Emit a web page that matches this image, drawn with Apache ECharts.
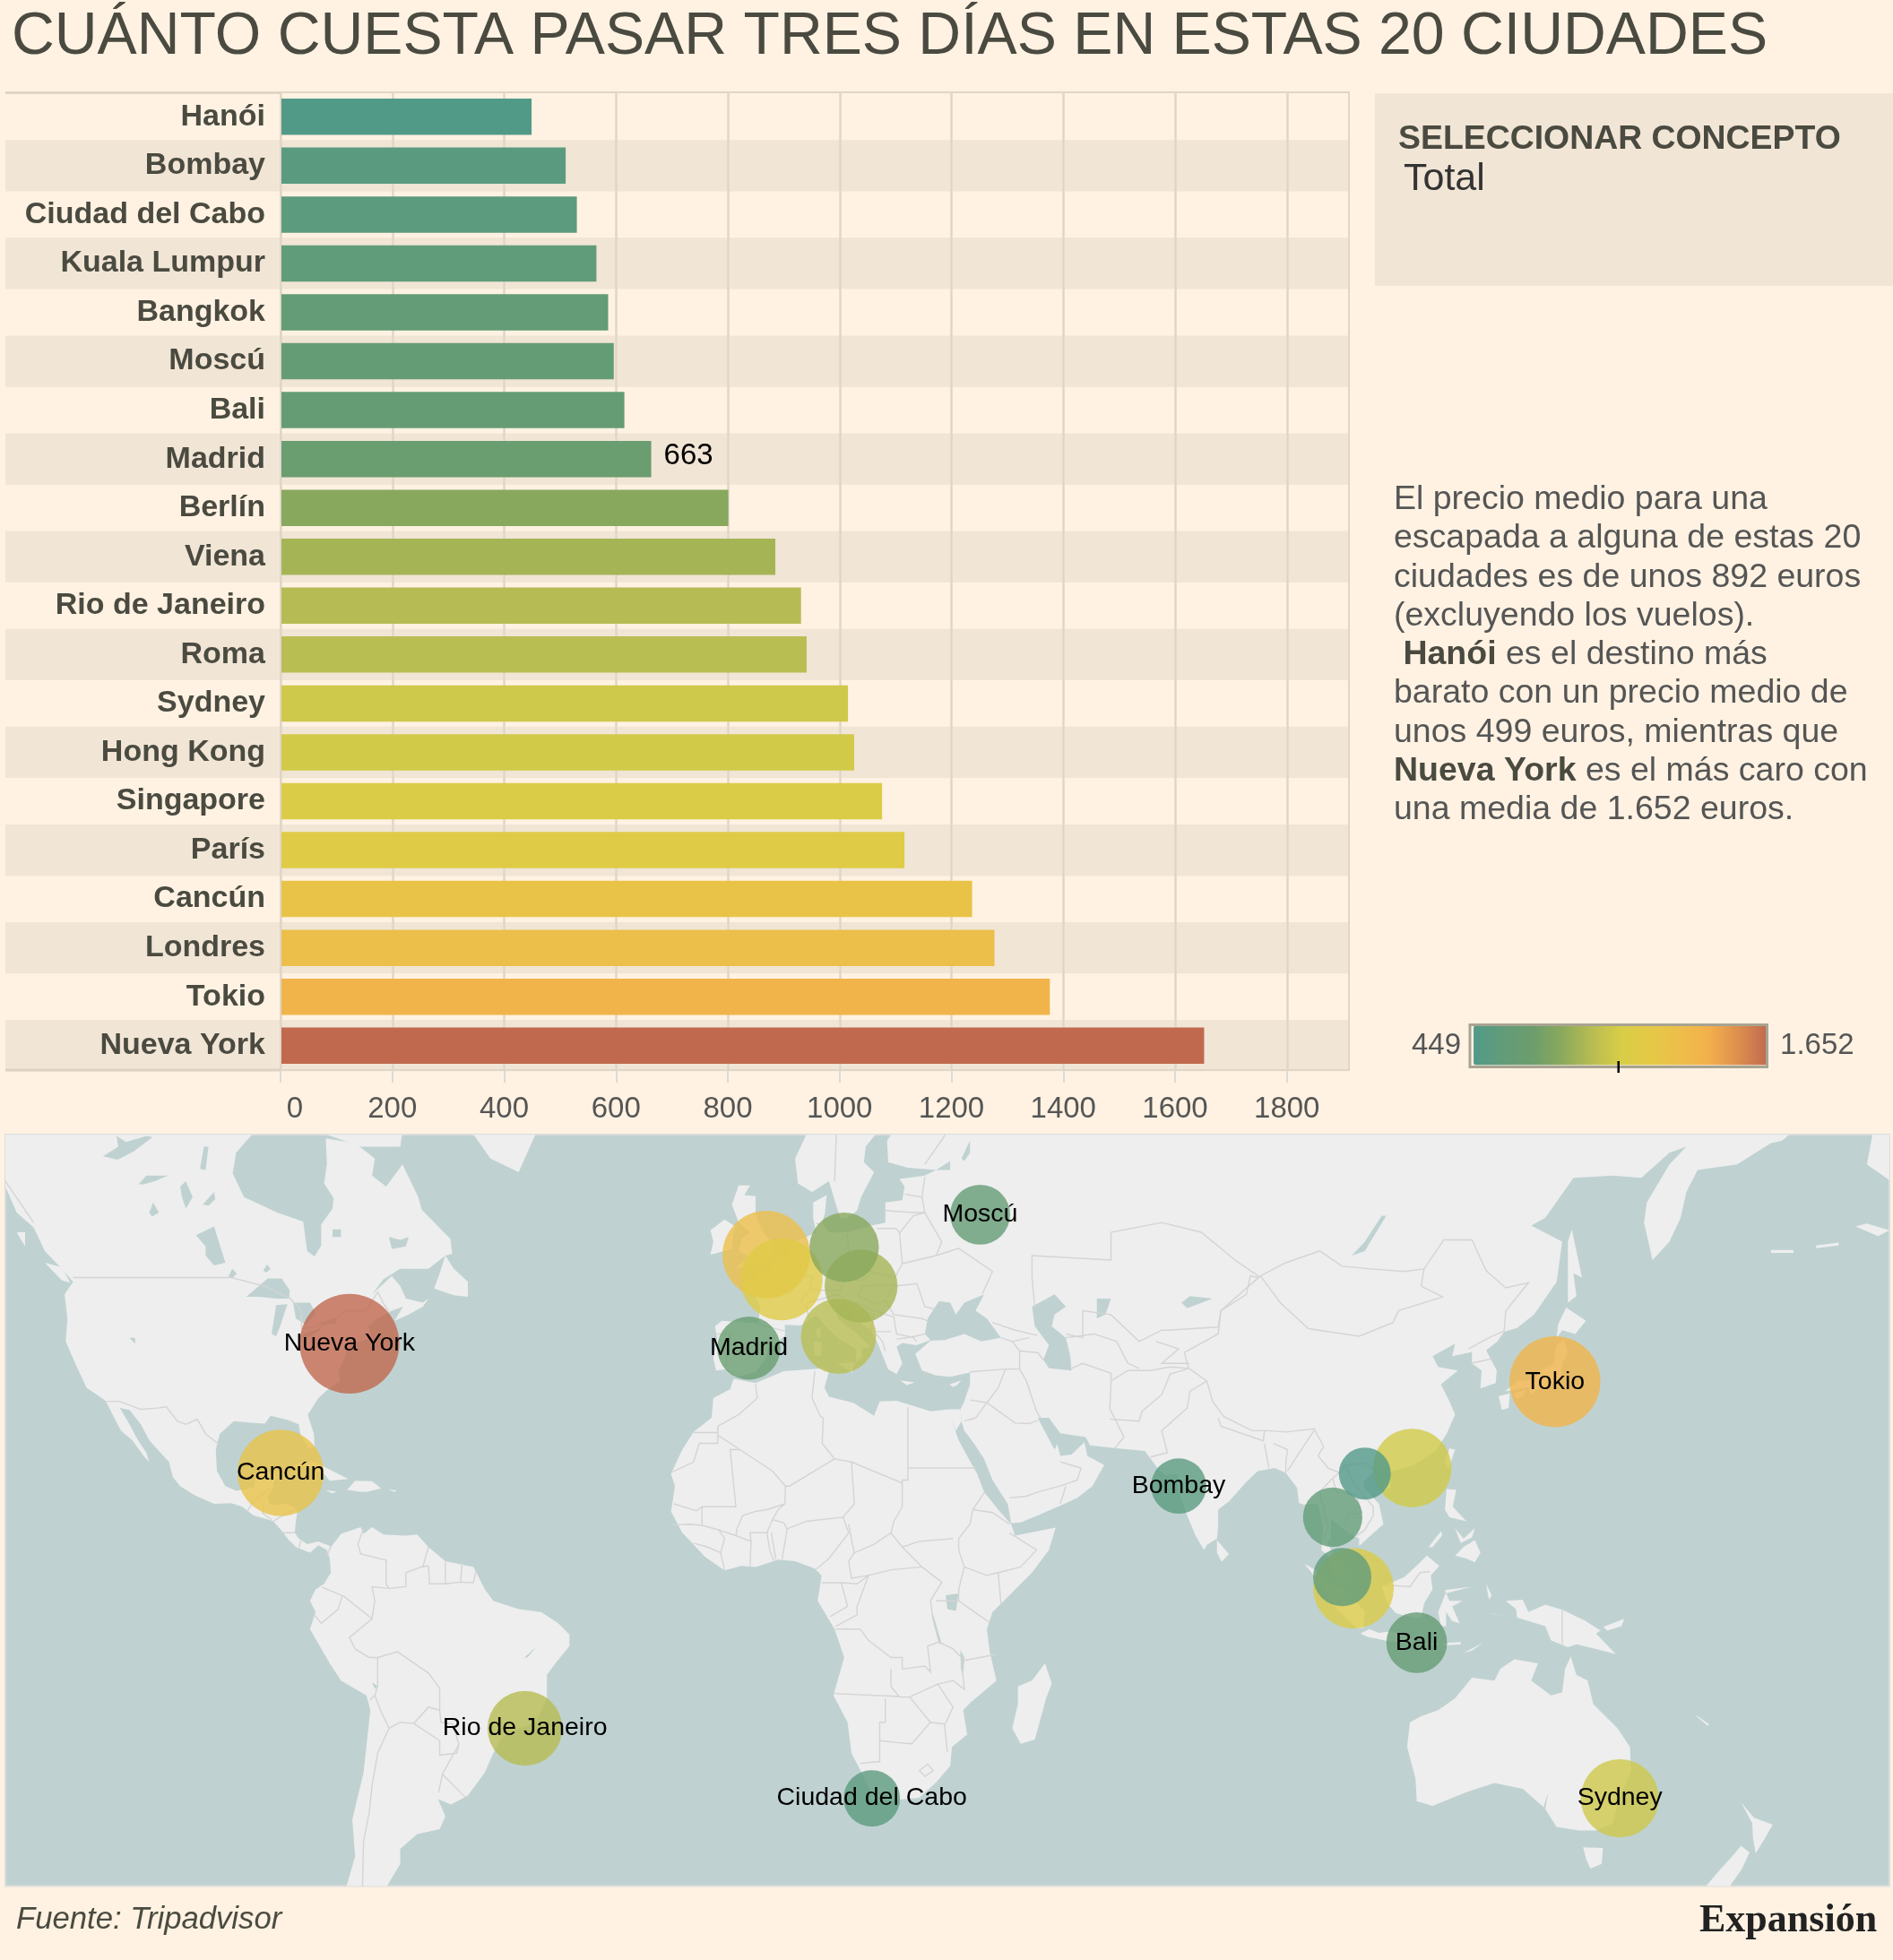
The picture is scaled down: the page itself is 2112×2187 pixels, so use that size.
<!DOCTYPE html>
<html>
<head>
<meta charset="utf-8">
<title>Cuánto cuesta pasar tres días en estas 20 ciudades</title>
<script src="https://cdn.jsdelivr.net/npm/echarts@6/dist/echarts.min.js"></script>
<style>
html, body { margin: 0; padding: 0; background: #fff2e2; }
#main { width: 2112px; height: 2187px; }
</style>
</head>
<body>
<div id="main"></div>
<script>
// datos
var cities = ['Hanói', 'Bombay', 'Ciudad del Cabo', 'Kuala Lumpur', 'Bangkok', 'Moscú', 'Bali', 'Madrid', 'Berlín', 'Viena',
    'Rio de Janeiro', 'Roma', 'Sydney', 'Hong Kong', 'Singapore', 'París', 'Cancún', 'Londres', 'Tokio', 'Nueva York'];
var totals = [449, 510, 530, 565, 586, 596, 615, 663, 801, 885, 931, 941, 1015, 1026, 1076, 1116, 1237, 1277, 1376, 1652];
var lons = [106.0, 73.0, 18.6, 102.0, 100.3, 37.8, 115.2, -3.2, 13.7, 16.7, -42.9, 12.7, 151.2, 114.4, 104.0, 2.6, -86.2, -0.1, 139.7, -74.0];
var lats = [21.1, 19.0, -33.9, 3.2, 13.7, 55.8, -8.4, 40.1, 52.4, 48.0, -23.0, 41.7, -33.9, 22.0, 1.2, 48.8, 21.2, 51.6, 35.4, 40.7];
var mapLabels = ['Bombay', 'Ciudad del Cabo', 'Moscú', 'Bali', 'Madrid', 'Rio de Janeiro', 'Sydney', 'Cancún', 'Tokio', 'Nueva York'];
var xTicks = [0, 200, 400, 600, 800, 1000, 1200, 1400, 1600, 1800];
var noteLines = [
    'El precio medio para una',
    'escapada a alguna de estas 20',
    'ciudades es de unos 892 euros',
    '(excluyendo los vuelos).',
    ' {b|Hanói} es el destino más',
    'barato con un precio medio de',
    'unos 499 euros, mientras que',
    '{b|Nueva York} es el más caro con',
    'una media de 1.652 euros.'
];
var ramp = ['#529a88', '#629c79', '#6c9d6d', '#8aa95c', '#b6bc53', '#d8cd47', '#e4c946', '#edbe4a', '#f3b04c', '#dc8f4e', '#c1694f'];

// geografia base, lon/lat a ojo
var landPolys = [
    // Norteamerica
    [[-168,65.5],[-164,63],[-165,60.5],[-158,58],[-153,59],[-150,61],[-146,60.5],[-140,59.8],[-135,58.5],[-133,56],[-130,54.5],[-128,52],[-125,50],[-123,48.5],[-124.5,47],[-124,44],[-124.3,41],[-122.5,37.8],[-120.6,34.5],[-117.2,32.6],[-116,30.5],[-114.5,28],[-112.5,26.5],[-110.5,24],[-109.5,23],[-110,24.5],[-111.5,26.5],[-113,29],[-114.7,31.5],[-113,31.2],[-111,29],[-109.5,26.5],[-108,25],[-106,23],[-105.3,20.5],[-104,19],[-101.5,17.5],[-98,16],[-95,16.1],[-93,15.5],[-91,14],[-88,13.2],[-87.5,13],[-85.7,11],[-85,10],[-83.5,8.5],[-81,7.5],[-79.5,8.8],[-78,8],[-77.3,8.5],[-77.5,8.7],[-79.5,9.5],[-81.5,9],[-83,10],[-83.7,11],[-83.5,13],[-83.2,15],[-85,16],[-88,15.8],[-88.5,17],[-87.7,18.5],[-87,21],[-89,21.4],[-90.5,20.8],[-91,18.8],[-94,18.2],[-96,19],[-97.5,21.5],[-97.7,25],[-97,27.5],[-94.5,29.5],[-91,29.2],[-89,29.1],[-88,30.3],[-85,29.7],[-83,29],[-82.7,27.5],[-81.2,25.2],[-80.2,25.5],[-80.3,27.5],[-81.4,30.5],[-79.5,33],[-77.5,34.5],[-75.7,35.5],[-76,37],[-75,38.5],[-74,40.5],[-72,41],[-70,41.6],[-70.7,43],[-69,44],[-66.5,45],[-64.5,45.5],[-66,43.7],[-63.5,44.5],[-61,45.5],[-60,46.5],[-61,46],[-64,46.5],[-65,48],[-66.5,49.2],[-70,47],[-68,48.8],[-65,50],[-60,50],[-57,51.5],[-55.8,51.7],[-56.1,53.3],[-61.2,56.3],[-61.8,57.5],[-64.6,60.5],[-67.5,58.5],[-70,59.5],[-69.5,61],[-73,62.3],[-78.2,62.7],[-78,60.5],[-78.5,58.8],[-76.8,57.4],[-77,56.4],[-79,54.8],[-79,52.6],[-80.2,51.4],[-81.5,52],[-82.2,55.1],[-86.8,56],[-92.7,57.5],[-94.7,59.7],[-94.1,61.5],[-91.3,63],[-88,64],[-85,66],[-90,68],[-95,70],[-110,70],[-125,70],[-140,70],[-156,71],[-166,68.5]],
    [[191,66],[196,63],[195,60.5],[202,58],[202,70]],
    [[193,54.6],[197,53.6],[199,54.2],[195,54.9]],
    [[186,52.3],[190,52.6],[190,52.9],[186,52.6]],
    [[178,51.8],[182,51.8],[182,52.1],[178,52.1]],
    [[-59,47.7],[-55.5,46.9],[-53,46.7],[-53,48.5],[-55.5,50],[-57,51.5],[-58,49.5]],
    [[-128,50.7],[-125,48.7],[-123.5,48.4],[-125,50.2]],
    [[-133,54],[-131.5,54],[-131.5,52.5]],
    [[-78,63],[-72,62],[-65,62],[-64,65],[-75,68],[-80,65]],
    [[-85,21.9],[-82.5,23.1],[-80,23],[-77,21.5],[-74.2,20.2],[-77.5,19.9],[-78.5,21],[-82,22.3]],
    [[-74.4,18.4],[-73,19.9],[-70,19.8],[-68.4,18.6],[-71,18],[-72.5,18.1]],
    [[-78.3,18.3],[-76.3,18.1],[-77,17.8]],
    [[-67.2,18.4],[-65.7,18.3],[-66,18]],
    [[-54,68],[-52,63],[-49,61],[-44,59.8],[-42,62],[-38,66],[-30,69]],
    // Europa y Asia
    [[-9,37],[-9.5,38.7],[-8.8,41.5],[-9.2,43],[-8,43.7],[-4,43.5],[-1.5,43.4],[-1.2,45.5],[-2.5,47.3],[-4.7,48.3],[-1.5,48.7],[-1.6,49.7],[0.2,49.6],[1.6,50.9],[3.5,51.5],[4.7,53],[7,53.5],[8.7,54],[8.2,55.5],[8.2,57],[10.6,57.7],[10.3,56],[9.8,55],[11,54],[14,54],[18.5,54.7],[21,55],[21,57],[24,57.2],[24.4,58.5],[23.5,59.2],[28,59.5],[30,60],[25,60.2],[21.5,60.7],[21.3,62.5],[25,65],[22,65.7],[21,64],[17.5,62],[17.2,60.7],[19,59.8],[16.7,57.5],[16,56.2],[14.3,55.5],[13,55.4],[11,59],[8,58],[5.5,58.8],[5,61],[7,63],[12,66],[15,69],[20,70],[26,71],[32,69.7],[41,67],[40,65],[34.5,65.5],[38,64],[44,66],[44,68.5],[54,68.5],[68,68.5],[70,73],[80,73],[105,77],[113,74],[130,71],[140,72.5],[160,70],[170,70],[180,69],[190,66.5],[185,64.5],[180,62.5],[178,62.3],[172,60.5],[165,60],[163,58],[162,55.5],[160,53],[157,51],[155.5,55],[156,57],[160,60.5],[163,62],[160,61.5],[155,59.3],[150,59.5],[143,59.3],[138,55.5],[135.5,54.7],[141,53],[140,48.5],[136,44.5],[133,42.8],[130.7,42.3],[129.5,41],[127.5,39.8],[129.4,37],[129.2,35.2],[126.5,34.4],[126.7,37],[125,38],[125,39.6],[121.5,39],[122,40.7],[118,39],[119,37.5],[122.5,37],[119.5,35],[121,32.5],[122,30.5],[120.5,27.5],[118.5,24.7],[114.5,22.4],[110.5,21.3],[108,21.6],[106,20],[105.8,18.8],[108.5,16],[109.3,12.5],[107,10.5],[105,8.7],[105,10],[103,11],[101,12.7],[100,13.4],[100,10],[99.3,9.2],[100.5,7.2],[102,6.2],[103.4,4.5],[104,1.4],[102,2.3],[100.5,3.8],[100,6.5],[98.3,8],[98.6,12],[97.7,16],[95,15.9],[94.3,16.2],[94,18.7],[92,21.2],[90,22],[87,21.5],[85,19.7],[82,16.5],[80,15],[80,12.5],[79.8,10],[78,8.9],[77.5,8],[76,10.5],[74.5,14],[73,18],[72.8,21],[70.5,20.8],[69,22.3],[67,24.8],[62,25.2],[57.3,25.7],[56.5,27],[52,27.6],[50,30],[48,30],[49.8,27],[51,25],[51.5,25.9],[52,24],[54,24.2],[56.3,26.2],[56.8,24],[59.8,22.5],[57.7,19],[55,17],[52,15.7],[48,14],[45,12.8],[43.3,12.7],[42.7,16],[40,20],[38.5,23.5],[36.7,26],[35,28],[34.5,29.5],[34.3,31.3],[35,32.5],[36,35],[36,36.7],[32.5,36.1],[30,36.3],[27.5,37],[26.3,39.3],[29,41.1],[31.5,41.2],[35,42],[38,41],[41.5,41.5],[39,44],[37,45],[38.5,47],[35,46],[33.5,44.5],[32.5,46],[30.5,46.2],[28.5,44],[28,42],[29,41.2],[26.5,40.5],[24,40.8],[23,40.3],[24,38],[23,36.5],[21.5,37.2],[19.5,41],[18.5,42.5],[15.5,44],[13.7,45.6],[12.3,45.3],[12.5,44],[16,42],[18.5,40.2],[16.7,40],[17,39],[15.8,38],[15.7,40],[12.5,41.5],[10.5,43],[8.7,44.4],[6,43.1],[3.2,43.2],[3.2,41.8],[0.3,40],[-0.3,38.5],[-2,36.8],[-5.3,36.1],[-7,37.2]],
    [[-5.5,50],[-3,50.5],[1,51],[1.5,52.8],[0,53.5],[-1.5,55],[-2,56],[-2,57.6],[-4,57.7],[-3,58.6],[-5,58.6],[-6.2,56.8],[-5,55],[-3,54],[-4.5,53.3],[-5,52],[-3.2,51.4]],
    [[-10,51.6],[-6.2,52.2],[-6,53.5],[-5.6,54.6],[-7.5,55.3],[-10,54.2],[-9.5,53]],
    [[12.5,38],[15.6,38.2],[15.1,36.7]],
    [[8.2,41],[9.7,41],[9.6,39.1],[8.5,39]],
    [[8.6,42.5],[9.5,43],[9.5,41.5],[9,41.5]],
    [[23.6,35.6],[26.2,35.3],[24.8,34.9]],
    [[32.4,35],[34.5,35.6],[33.7,34.9],[33,34.6]],
    [[79.8,9.7],[81.9,7.3],[80.6,5.9],[79.8,7.5]],
    [[121,25.2],[122,25],[120.9,22],[120.2,23]],
    [[108.7,19.3],[110.5,20.1],[110.5,18.8],[109.5,18.2]],
    [[130.9,34],[133,35.5],[136,35.7],[137,37],[139.5,38],[140,40.5],[141.3,41.3],[142,39.5],[141,38],[140.8,35.7],[139,34.9],[136.8,34.5],[135.5,33.5],[135,34.6],[132.5,34.2]],
    [[129.7,33.3],[131.7,33.7],[131.5,31.5],[130.3,31.2]],
    [[132.3,33.7],[134.5,34.2],[134.2,33.3],[133,32.8]],
    [[140,41.5],[140.3,43.3],[141.7,45.4],[145.2,43.7],[143.3,42],[141,42.5]],
    [[142,46],[143.5,46.8],[143,49.5],[144.5,49],[142.7,54.3],[142,53],[142,49]],
    // Africa
    [[-5.9,35.8],[-2,35.2],[3,36.9],[10,37.3],[11,36.8],[10.2,34.5],[11,33.2],[15.3,32.3],[19,30.3],[20,32.5],[23,32.6],[29,31],[32.3,31.3],[34.3,31.3],[34.5,29.5],[33.5,28],[32.6,30],[34,26.5],[35.5,24],[37.3,21],[38.5,18],[41,15],[43.3,12.5],[44,10.5],[51.2,11.9],[50,8],[47,4],[43,0],[40,-3],[39,-6],[39.5,-10],[40.7,-15],[36,-18.8],[34.8,-20],[35.5,-24],[32.8,-26],[32.5,-29],[30,-31.5],[27,-33.8],[22,-34.2],[18.5,-34.3],[18,-32],[15,-27],[14.3,-22],[11.8,-17.5],[13.7,-11],[12,-6],[9,-1],[9.7,3.5],[8.5,4.7],[5,6],[2,6.3],[-2,5],[-4.5,5.2],[-7.5,4.4],[-11,6.8],[-13.5,9.5],[-15,11],[-17,14.7],[-16.3,19],[-17,21],[-15,25],[-13,27.8],[-9.8,30],[-9.5,33],[-6.5,34.3]],
    [[49.3,-12],[50.5,-15.5],[49.5,-18],[47.5,-24.8],[45,-25.5],[43.5,-23],[44.5,-19],[44.5,-16],[47,-15]],
    // Sudamerica
    [[-77.3,8.5],[-75.5,10.8],[-72,12],[-71.5,10.8],[-70,12],[-68,10.7],[-64,10.5],[-62,10.7],[-60,8.5],[-57,6],[-52,5],[-50,1],[-48.5,-1],[-44,-2.5],[-40,-3],[-37,-5],[-35,-7],[-35,-9],[-37.5,-12],[-39,-14],[-39,-18],[-41,-22],[-44,-23],[-47,-24.5],[-48.5,-27],[-50,-30],[-53,-33.5],[-56,-34.8],[-58.3,-34],[-57,-36.5],[-58,-38.3],[-62,-39],[-65,-41],[-65,-43],[-67.5,-46],[-70,-52],[-74,-52],[-75,-47],[-73,-42],[-73.5,-37],[-71.5,-30],[-70.3,-20],[-71,-17.5],[-75.5,-15],[-77.5,-12],[-81,-6],[-80,-3],[-81,-1],[-80,1],[-78.5,2],[-77.3,4],[-77.5,6.5],[-78,8]],
    // Oceania y sudeste asiatico
    [[114,-22],[113.5,-26],[115,-31],[115.2,-34.3],[118,-35],[124,-33],[129,-31.6],[134,-32.5],[137.7,-35.2],[138.5,-33],[138,-35.5],[140,-38],[144,-38.5],[147,-38.5],[150,-37.5],[151,-34],[153.2,-30],[153,-26],[150.8,-23],[146.5,-19],[145.5,-15],[143.5,-14],[142.5,-10.8],[141.5,-13],[141,-17],[139,-17.5],[135.5,-15],[136.7,-12],[132.5,-11.3],[130,-13],[129,-15],[125,-14.5],[122,-18],[119,-20],[116,-21]],
    [[144.7,-40.8],[148.2,-40.9],[148,-43],[146,-43.6],[145.3,-42.5]],
    [[172.7,-34.5],[175,-36.7],[178.3,-37.7],[177,-39.5],[175.3,-41.6],[174.8,-39.5],[174.7,-37.5]],
    [[172.7,-40.6],[174.2,-41.5],[172.8,-43.7],[171,-45.5],[170.7,-46],[168,-46.6],[166.5,-45.8],[169,-43.7],[171.5,-41.7]],
    [[95.3,5.6],[98,4],[100.5,2],[103.5,0],[106,-3],[105.8,-5.8],[104.5,-5.8],[101,-2.5],[98.5,1.5]],
    [[105.2,-6.8],[106.8,-6],[108.5,-6.7],[110.7,-6.4],[114.5,-7.8],[114.4,-8.7],[110,-8.1],[106.5,-7.4]],
    [[115,-8.5],[119,-8.4],[119,-8.8],[115.5,-8.8]],
    [[119.8,-8.5],[123,-8.3],[123,-8.7],[120,-8.9]],
    [[123.5,-10.2],[127,-8.4],[125,-9.8]],
    [[109,1.5],[111.3,2.5],[113,3.2],[115.5,5.5],[117,7],[119.2,5.2],[117.7,3.5],[118,1],[116.5,-1.5],[116,-4],[114.5,-4],[111.5,-3.2],[110,-1.5]],
    [[119.5,-5.5],[120.4,-5.5],[120.4,-3],[121.5,-4.6],[122.8,-5],[121.5,-2],[123.3,-1],[121,-1],[120.2,0.9],[124.9,1.5],[120.3,0.3],[119.8,-1],[119,-3]],
    [[131,-1],[134,-0.8],[135,-3],[138,-1.7],[141,-2.6],[145,-4.5],[147.8,-6.3],[147,-6.8],[150.5,-10.4],[147,-9.5],[143.5,-8.7],[142,-9.2],[139,-8],[138,-5.5],[133,-4],[132.8,-2.5]],
    [[127.5,2],[128.5,0],[128,-0.8],[127.7,0.8]],
    [[128,-3.2],[130.8,-3.6],[129,-3.4]],
    [[148.3,-5.6],[152,-4.2],[151.5,-5.5],[149,-6.3]],
    [[120.5,18.5],[122.2,18.4],[121.6,15.5],[124,13],[121,13.7],[120.2,15]],
    [[122,7],[123.6,8.6],[125.5,9.7],[126.5,7.5],[125.5,5.8],[124,6.5]],
    [[122,11.8],[123.5,10],[125.5,11.8],[125,10.2],[123,9.2]],
    [[117.3,8.5],[119.5,11.3],[119.7,10.5],[118,8.5]],
    [[165,-21],[167,-22.3],[166.8,-22.6],[164.5,-20.8]]
];
var lakePolys = [
    [[-92.3,46.7],[-88.5,48.9],[-86,48.9],[-84.6,47.5],[-84.7,46.5],[-87,46.5],[-90,46.7]],
    [[-87.8,42],[-87,45.7],[-85,45.8],[-86.3,43],[-87,41.7]],
    [[-84,46],[-81,46],[-80,44.7],[-81.7,43.2],[-83.5,44]],
    [[-83.4,41.7],[-79,42.8],[-79.2,42.5],[-81.5,41.5]],
    [[-79.7,43.3],[-76.3,44.1],[-76.3,43.4],[-78,43.3]],
    [[-101.2,53.7],[-98,54.6],[-96,50.7],[-98,50.4],[-99.5,51.5],[-99.5,52.5]],
    [[-95.5,49],[-94.8,50],[-94,49.5],[-94.6,49]],
    [[-89.3,49.8],[-88.6,50.5],[-88,50],[-88.7,49.6]],
    [[-117.7,61.2],[-115,62],[-115.3,62.9],[-113.6,62.4],[-110,62.9],[-108.9,62.8],[-112.3,61.6],[-115.1,60.9]],
    [[-100.5,60.1],[-99.8,62],[-99,62],[-99.5,60]],
    [[-111.4,58.7],[-110,59.5],[-106.2,59.5],[-108.5,59],[-110.5,58.7]],
    [[-104,58.5],[-103,59],[-101.8,57.5],[-103,56.4],[-103.7,57.5]],
    [[-100,56.8],[-98,58],[-97.8,57.3],[-99,56.7]],
    [[-109.5,56],[-108.8,57],[-107.8,56],[-109,55.6]],
    [[-67,53.5],[-66.5,52.2],[-64,52.5],[-63.5,53.5],[-65,53.2]],
    [[-77,54.3],[-75.5,54.3],[-75.5,53.5],[-77,53.5]],
    [[-113,41.5],[-112,41.5],[-112,40.7]],
    [[47,45.5],[51,47],[53,45.5],[51,44.5],[50.5,43],[53,41.5],[53.8,39],[54,37],[50,37.3],[49,38.5],[50,40.5],[47.5,43]],
    [[58.5,46.5],[61,46.5],[60,44.5],[58.5,44]],
    [[73.5,46],[75,46.8],[79,46.5],[74.5,45.3]],
    [[103.7,51.5],[106,52],[109.8,55.7],[109,55.7],[106,53]],
    [[30,60],[32.5,60.8],[32.5,60],[31,60]],
    [[34.5,61],[36,62.5],[36,61.5],[35,60.8]],
    [[31.7,0],[34,0.3],[33.5,-2.8],[32,-2.5]],
    [[29.2,-3.5],[29.5,-3.5],[31,-8.7],[30.5,-8.5]],
    [[34.3,-9.7],[35,-11],[34.8,-14.3],[34.4,-13]],
    [[-43,-11],[-41,-9.3],[-41.2,-9.6],[-42.5,-11]],
    [[-70,-15.3],[-69,-15.9],[-69.5,-16.4]]
];
var borderLines = [
    [[-123,49],[-95,49],[-89,48],[-84.5,46.5],[-82.5,45],[-82.5,42.7],[-79,43],[-76,44.3],[-74.5,45],[-71,45],[-69,47.3],[-67.8,45.7],[-67,44.9]],
    [[-141,70],[-141,60.3],[-135,59],[-130,55]],
    [[-117,32.5],[-114.8,32.5],[-111,31.3],[-108,31.5],[-106.5,31.7],[-104.5,29.5],[-103,29],[-101,29.8],[-99.5,27.5],[-97.2,25.9]],
    [[-92.2,14.6],[-91,16.5],[-89.2,17.8],[-88.3,18.5]],
    [[-89.2,15.9],[-89.4,14.4],[-87.8,13.3]],
    [[-87.5,13],[-85,14.5],[-83.2,15]],
    [[-85.7,11],[-83.7,11]],
    [[-83,8.3],[-82.6,9.6]],
    [[-77.9,7.2],[-77.3,8.6]],
    [[-71.5,11.8],[-72.5,9],[-72,7.3],[-67.5,6.2],[-67.5,2],[-67,1.2]],
    [[-78.8,1.4],[-75.5,0],[-75,-0.2],[-70,-4.2],[-69.5,-1],[-70,1.5],[-67,1.2]],
    [[-80.3,-3.4],[-79,-5],[-76,-2.5],[-75.3,-0.2]],
    [[-60,8.5],[-61,5],[-60,5.2]],
    [[-60.7,5.2],[-64,4],[-64,1.5],[-67,1.2]],
    [[-60,5.2],[-59.8,2],[-57,2],[-57,6]],
    [[-54,5.9],[-54.3,2.3]],
    [[-57,2],[-54.3,2.3],[-52,2.2],[-51.6,4.2]],
    [[-70,-4.2],[-74,-7.5],[-73,-9.5],[-70.5,-11],[-69,-11],[-65.5,-10],[-60,-13.7],[-58,-16.3],[-58,-20],[-57.8,-22]],
    [[-69,-11],[-69,-16],[-69.5,-17.5]],
    [[-70.4,-18.3],[-69.5,-17.5],[-68.5,-20],[-67,-23]],
    [[-67,-23],[-65,-22],[-62.6,-22.2],[-60,-19.5],[-58,-20]],
    [[-67,-23],[-69,-27],[-70,-32],[-70.5,-36],[-71.5,-40],[-71.7,-46],[-72.5,-50],[-69,-52]],
    [[-62.6,-22.2],[-58,-25],[-58,-27.3],[-55,-27],[-54.6,-25.6]],
    [[-57.8,-22],[-55.7,-22.3],[-54.6,-25.6],[-57.5,-30.2],[-58.2,-33]],
    [[-57.6,-30.2],[-53.5,-33.7]],
    [[-2,35],[-1.7,33],[-5,30.5],[-8.7,28.7],[-8.7,26],[-12,26],[-13,23],[-16.9,21.3]],
    [[-13,27.7],[-8.7,27.7]],
    [[8.5,36.9],[8,33],[9.5,30.2],[10,30],[9.8,26],[12,23.5],[4,19],[3.3,19],[3.2,16],[0,15]],
    [[-4.8,25],[-6.5,25],[-5.5,15.5],[-11.5,15.5],[-12.5,14.8],[-16.5,16]],
    [[-8.7,27.3],[-4.8,25],[1,21.5],[3.3,19]],
    [[25,31.6],[25,20],[24,20],[24,15.5],[22.5,13],[22,11],[24,8.5],[27.5,5]],
    [[25,22],[37,22]],
    [[24,19.5],[15,23],[12,23.5]],
    [[15,23],[15.5,16],[13.5,13.7],[7,13],[3.6,11.7],[3,12.7],[1,13.3],[2,15],[3.2,16]],
    [[3.6,11.7],[2.7,6.4]],
    [[13.5,13.7],[14.5,11],[11,6.5],[8.7,4.6]],
    [[14.5,12.5],[15,9.8],[15.5,7.5],[19,9],[22,11]],
    [[15.5,7.5],[14.5,6],[15,3],[18,3.5],[22,4.5],[27.5,5]],
    [[9.7,2.2],[13.2,2.2],[16,2],[18,3.5],[16,-2],[16,-3.5],[12.2,-5.5]],
    [[13.2,2.2],[14.3,-2],[11.2,-3.8]],
    [[12.2,-6],[16.5,-6],[18,-8],[22,-11],[24,-11],[24,-13],[28,-12.5],[29,-13.5],[28.5,-9],[30.5,-8.3],[29.5,-4.5],[29,-1],[31,2.3],[27.5,5]],
    [[24,8.5],[27,9.5],[33,10]],
    [[38.6,18],[36.5,15],[36,12.5],[34,10],[34,8],[35,5],[39,3.5],[41,4],[45,5],[47.8,8],[43,11]],
    [[43,12.5],[40,14.5],[36.5,15]],
    [[41,4],[41.5,-1.6]],
    [[35,5],[34,1],[34,-1],[37.5,-3.5],[39.3,-4.7]],
    [[30,-1],[34,-1]],
    [[30.5,-8.3],[33,-9.5],[35,-11.5],[40.5,-10.5]],
    [[34.5,-11.5],[35,-16.5],[33,-15],[30.3,-15.6],[33,-19.5],[31.5,-22.5],[32,-26.8]],
    [[30.3,-15.6],[25.3,-17.8],[23.5,-17.8],[22,-16],[22,-13]],
    [[11.8,-17.2],[23.5,-17.7]],
    [[21,-18],[21,-22],[20,-22],[20,-28.3],[16.5,-28.6]],
    [[25.3,-17.8],[29,-22],[31.5,-22.3]],
    [[29,-22],[25.7,-25.5],[23,-25.3],[20,-25]],
    [[27,-29.7],[28.5,-28.7],[29.5,-29.7],[28,-30.6],[27,-29.7]],
    [[-16.7,12.4],[-13.7,12.5],[-11.5,12.3],[-8.5,11.5],[-7.5,10],[-8.2,7.5],[-10.5,8.5],[-13,9.2]],
    [[-11.5,15.5],[-11.5,12.3]],
    [[-8.5,11.5],[-5.5,10.5],[-2.8,9.5],[-3,11],[0,11],[1,13.3]],
    [[-5.5,10.5],[-5.3,11.7],[-4.3,14],[-2,14.7],[0,15]],
    [[-8.2,7.5],[-7.5,4.4]],
    [[-2.8,9.5],[-3,5.1]],
    [[0,11],[0.5,8],[1.2,6.1]],
    [[0.8,11],[1.6,6.3]],
    [[-1.8,43.3],[3.2,42.4]],
    [[-8.8,42],[-6.5,42],[-7,39.6],[-7.4,37.2]],
    [[2.5,51],[4.2,50],[6,49.5],[8.2,49],[7.6,47.6],[6,46.2],[7,45.5],[7.5,43.8]],
    [[6,49.5],[6,51],[7,52.5],[7,53.5]],
    [[8.7,54.9],[9.8,54.8]],
    [[14.2,53.9],[14.7,51],[12.3,50.2],[13.8,48.7],[13,47.5],[9.6,47.5],[7.6,47.6]],
    [[7,45.9],[10.4,46.6],[12.4,47],[13.7,46.5],[13.7,45.7]],
    [[14.7,51],[18.8,49.6],[22.7,49],[24,50.6],[23.5,54],[22.8,54.4],[19.5,54.4]],
    [[13.8,48.7],[17,48.7],[18.8,49.6]],
    [[17,48],[22.7,48.2],[22,47.5],[21,46.2],[18.8,45.9],[16.3,46.8],[17,48]],
    [[22.7,48],[26.6,48.3],[28,45.5],[29.7,45.2]],
    [[21,46.2],[22.5,44.5],[27.5,44],[28.5,43.7]],
    [[24,50.6],[30,51.5],[34,52.3],[40,49.7],[38.2,47.1]],
    [[23.5,53.9],[26,55.7],[28,56],[31,53],[30,51.5]],
    [[21,56.2],[26,56],[28,56],[27.5,57.5],[24.4,57.8]],
    [[27.5,57.5],[28,59.4]],
    [[28,60.5],[31.5,62.9],[29,66],[28.5,70]],
    [[12,59],[12.3,63],[15,66],[20,69],[26,69.7]],
    [[24,66],[23.5,68],[20.5,69]],
    [[13.7,45.5],[16,46],[19,45],[22.5,44.2],[23,42],[26,41.5],[26.5,41]],
    [[19.4,42],[20.5,41],[21,39.7]],
    [[23,41.3],[26.3,41.7],[28,42]],
    [[15.8,45],[19,44.5],[18.5,42.5]],
    [[19,42.3],[22,42.3]],
    [[36,36.8],[42.3,37.2],[44.8,37.2],[44.8,39.7],[43.5,41],[41.5,41.5]],
    [[42.3,37.2],[41,34.5],[39,32.3],[36,32.7]],
    [[39,32.3],[37,30],[35,29.5]],
    [[39,32.3],[44,29.2],[46.5,29.1],[48,29.6]],
    [[44.8,37.2],[46,35.5],[47.8,31],[48.5,30]],
    [[43,17],[46,17.3],[48,18],[52,19],[55,20],[55.7,22],[52,23]],
    [[52,16],[53,19]],
    [[54,37.3],[56,38],[61,36.6],[61,35],[60.8,31.4],[63.3,27],[61.6,25.1]],
    [[60.8,29.8],[66,29.5],[66.5,31],[70,33.5],[71.5,36.5],[74.5,37.2]],
    [[61,35.5],[64,37],[68,37],[71.5,37.5],[74.8,37.3]],
    [[53,42],[56,41.5],[56,45],[61,44.5],[66,41],[70,42.5],[71,42.5],[80,42.9],[80.5,45],[85,47],[85.7,49.2],[87,49]],
    [[47.5,45.5],[47,49],[47,51.5],[61,51],[61,54],[70,55],[77,54],[83,51],[87.3,49.1]],
    [[53,41.5],[58,42],[62,41],[64,38],[66,37.3]],
    [[69,41],[73,40],[70,38],[74.8,38]],
    [[40,43.5],[44,42.5],[48,41.8]],
    [[44.8,39.7],[48,39.5],[49,38.5]],
    [[43.5,41],[46.5,41.5]],
    [[87.5,49.2],[92,50.7],[98,52],[102,50.3],[107,50],[113,49.7],[116.5,50]],
    [[87.5,49.2],[91,46],[96,42.7],[105,41.7],[111,43.5],[112,45],[119.8,46.7],[116,48],[116.5,50]],
    [[116.5,50],[120,53.2],[125,53.2],[127.5,49.8],[131,47.8],[135,48.4],[131,45],[130.7,42.4]],
    [[124.4,40],[128,41.5],[130.7,42.4]],
    [[124.8,38],[128.3,38.6]],
    [[87.5,49.2],[80.5,45],[80,42],[74,39.5],[74.8,37.3],[78,35.5],[79,32.5],[81,30.2],[86,28],[88.8,28],[92,27.8],[97,28.3],[98.7,25.5],[97.7,24],[99.5,22],[101.5,21.2],[102.5,22.5],[106,22.8],[108,21.6]],
    [[68,23.8],[71,24.5],[70,28],[74.5,31.5],[75,34],[78,35.5]],
    [[80,30],[80.5,28.7],[88,26.4],[88.2,28]],
    [[88.2,26],[89,22]],
    [[89.8,26],[92.3,25],[92,23],[92,21.2]],
    [[92.3,21.5],[94,24],[97,28]],
    [[100.3,20.3],[98,18],[98.5,16],[99.5,11.8],[98.7,10]],
    [[101.5,21.2],[100.3,20.3],[101,18],[104.5,17.5],[105.5,14.4],[103,14.3],[102.5,12.1]],
    [[102.5,22.5],[104,19.5],[107.5,15.5],[107.5,14],[106,11.5],[104.5,10.4]],
    [[100.2,6.5],[102,6.1]],
    [[109.7,1.8],[114,1.5],[115.8,4],[117.5,4.2]],
    [[141,-2.6],[141,-9]]
];

var font = 'Liberation Sans';
var textColor = '#4a4a40';
var bandColor = '#f1e5d5';
var lineColor = '#e0d6c8';
var seaColor = '#bfd2d1';
var landColor = '#eeeeee';

function merc(lat) {
    return Math.log(Math.tan(Math.PI / 4 + lat * Math.PI / 360));
}

function indexData(list) {
    return list.map(function (d, i) { return [i, 0]; });
}

// radio proporcional al area: Nueva York = 55.6px
function bubbleSize(v) {
    return 2 * 55.6 * Math.sqrt(v / 1652);
}

function polyItem(list, fill) {
    return function (params, api) {
        var pts = list[params.dataIndex].map(function (p) {
            return api.coord([p[0], merc(p[1])]);
        });
        return { type: 'polygon', shape: { points: pts }, style: { fill: fill }, silent: true };
    };
}

var chart = echarts.init(document.getElementById('main'));

var barData = cities.map(function (c, i) {
    var item = { value: [totals[i], c] };
    if (c === 'Madrid') {
        item.label = { show: true, position: 'right', distance: 14, offset: [0, -3], formatter: '{@[0]}', color: '#000', fontSize: 33, fontFamily: font };
    }
    return item;
});

var bandData = cities.filter(function (c, i) { return i % 2 === 1; }).map(function (c) { return [0, c]; });

var bubbleData = cities.map(function (c, i) {
    return { name: c, value: [lons[i], merc(lats[i]), totals[i]] };
}).sort(function (a, b) { return b.value[2] - a.value[2]; });

var option = {
    backgroundColor: '#fff2e2',
    animation: false,
    title: {
        text: 'CUÁNTO CUESTA PASAR TRES DÍAS EN ESTAS 20 CIUDADES',
        left: 8, top: 4,
        textStyle: { color: textColor, fontSize: 66.2, fontWeight: 'normal', fontFamily: font }
    },
    grid: [
        { left: 313, top: 103, width: 1192, height: 1091, show: true, borderColor: lineColor, borderWidth: 2, backgroundColor: 'transparent', z: 1 },
        { left: 6, top: 1266, width: 2102, height: 838.5, show: true, borderColor: '#dddddd', borderWidth: 2, backgroundColor: seaColor }
    ],
    xAxis: [
        {
            gridIndex: 0, type: 'value', min: 0, max: 1911, z: 1,
            axisLine: { show: false },
            axisTick: { show: true, length: 14, customValues: xTicks, lineStyle: { color: '#dcdad6', width: 2 } },
            splitLine: { show: true, lineStyle: { color: lineColor, width: 2.5 } },
            axisLabel: {
                customValues: xTicks, margin: 27, color: '#555555', fontSize: 33, fontFamily: font, showMaxLabel: true,
                formatter: function (v) { return v === 0 ? '{zero|0}' : String(v); },
                rich: { zero: { color: '#555555', fontSize: 33, fontFamily: font, padding: [0, 0, 0, 32] } }
            }
        },
        { gridIndex: 1, type: 'value', min: -135, max: 199, show: false }
    ],
    yAxis: [
        {
            gridIndex: 0, type: 'category', data: cities, inverse: true, z: 3,
            axisLine: { show: true, lineStyle: { color: lineColor, width: 2 } },
            axisTick: { show: false },
            axisLabel: { color: textColor, fontSize: 34, fontWeight: 'bold', fontFamily: font, margin: 17 }
        },
        { gridIndex: 1, type: 'value', min: merc(-45.8), max: merc(63), show: false }
    ],
    visualMap: [
        {
            type: 'continuous', seriesIndex: 1, dimension: 0, min: 449, max: 1652,
            orient: 'horizontal', left: 1560, top: 1129.5, itemWidth: 44, itemHeight: 328,
            text: ['1.652', '449'], textGap: 14, calculable: false, hoverLink: false,
            textStyle: { color: '#555555', fontSize: 33, fontFamily: font },
            inRange: { color: ramp }
        },
        {
            type: 'continuous', seriesIndex: 5, dimension: 2, min: 449, max: 1652, show: false,
            inRange: { color: ramp }
        }
    ],
    graphic: [
        { type: 'rect', shape: { x: 6, y: 102, width: 307, height: 3 }, style: { fill: lineColor }, z: 5 },
        { type: 'rect', shape: { x: 6, y: 1192.5, width: 307, height: 3 }, style: { fill: '#ddd2c4' }, z: 5 },
        { type: 'rect', shape: { x: 1534, y: 104, width: 578, height: 215 }, style: { fill: bandColor }, z: 5 },
        { type: 'text', x: 1560, y: 137, z: 6, style: { text: 'SELECCIONAR CONCEPTO', fill: textColor, fontSize: 37.4, fontWeight: 'bold', fontFamily: font } },
        { type: 'text', x: 1566, y: 179, z: 6, style: { text: 'Total', fill: '#333333', fontSize: 43, fontFamily: font } },
        {
            type: 'text', x: 1555, y: 536, z: 6,
            style: {
                text: noteLines.join('\n'), fill: '#555555', fontSize: 37.5, fontFamily: font, lineHeight: 43.3,
                rich: { b: { fontWeight: 'bold', fontSize: 37.5, fontFamily: font, lineHeight: 43.3, fill: textColor } }
            }
        },
        { type: 'rect', shape: { x: 1640, y: 1143.5, width: 331.5, height: 47 }, style: { fill: 'transparent', stroke: '#a8a491', lineWidth: 3 }, z: 6 },
        { type: 'rect', shape: { x: 1804.5, y: 1184, width: 2.5, height: 13 }, style: { fill: '#000000' }, z: 7 },
        { type: 'text', x: 18, y: 2125, z: 6, style: { text: 'Fuente: Tripadvisor', fill: textColor, fontSize: 34.7, fontStyle: 'italic', fontFamily: font } },
        { type: 'text', x: 1896, y: 2122, z: 6, style: { text: 'Expansión', fill: '#222222', fontSize: 44, fontWeight: 'bold', fontFamily: 'Liberation Serif' } }
    ],
    series: [
        {
            // bandas alternas, tambien bajo los nombres
            type: 'custom', xAxisIndex: 0, yAxisIndex: 0, z: 0, silent: true,
            data: bandData, encode: { x: 0, y: 1 },
            renderItem: function (params, api) {
                var c = api.coord([0, api.value(1)]);
                var h = api.size([0, 1])[1] * 1.05;
                return { type: 'rect', shape: { x: 6, y: c[1] - h / 2, width: 1499, height: h }, style: { fill: bandColor } };
            }
        },
        {
            type: 'bar', xAxisIndex: 0, yAxisIndex: 0, z: 2, barWidth: 40.5,
            data: barData, encode: { x: 0, y: 1 }
        },
        {
            type: 'custom', xAxisIndex: 1, yAxisIndex: 1, clip: true, silent: true, z: 1,
            data: indexData(landPolys), renderItem: polyItem(landPolys, landColor)
        },
        {
            type: 'custom', xAxisIndex: 1, yAxisIndex: 1, clip: true, silent: true, z: 1,
            data: indexData(lakePolys), renderItem: polyItem(lakePolys, seaColor)
        },
        {
            type: 'custom', xAxisIndex: 1, yAxisIndex: 1, clip: true, silent: true, z: 1,
            data: indexData(borderLines),
            renderItem: function (params, api) {
                var pts = borderLines[params.dataIndex].map(function (p) {
                    return api.coord([p[0], merc(p[1])]);
                });
                return { type: 'polyline', shape: { points: pts }, style: { fill: null, stroke: '#d4d4d4', lineWidth: 1.4 }, silent: true };
            }
        },
        {
            type: 'scatter', xAxisIndex: 1, yAxisIndex: 1, z: 3,
            data: bubbleData,
            symbolSize: function (val) { return bubbleSize(val[2]); },
            itemStyle: { opacity: 0.8 },
            label: {
                show: true, position: 'inside', color: '#000000', opacity: 1, fontSize: 28.5, fontFamily: font,
                formatter: function (p) { return mapLabels.indexOf(p.name) >= 0 ? p.name : ''; }
            }
        }
    ]
};
chart.setOption(option);
</script>
</body>
</html>
